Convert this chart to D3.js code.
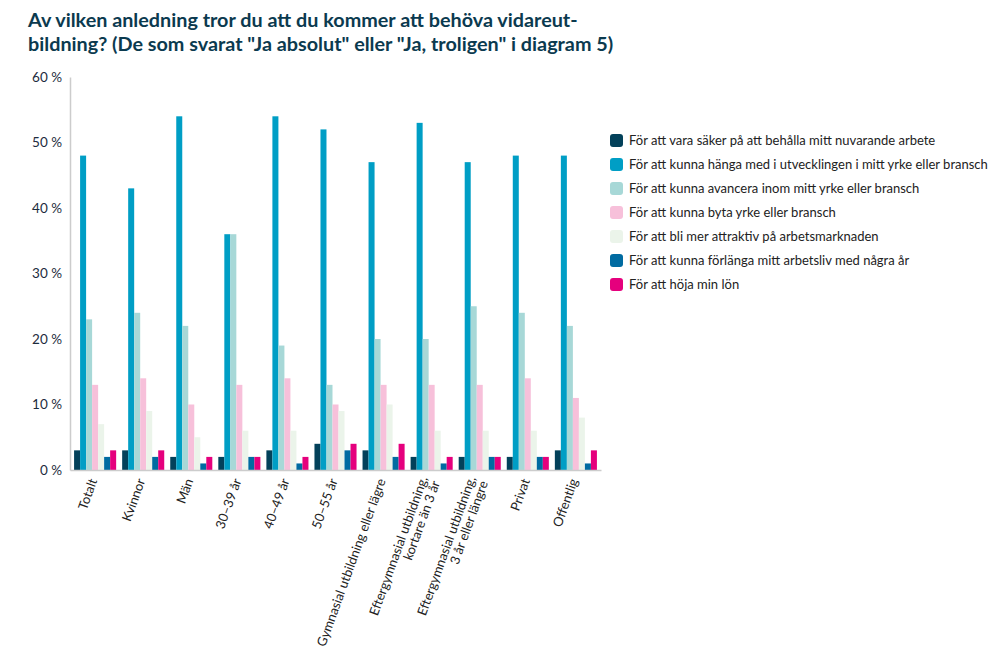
<!DOCTYPE html>
<html lang="sv">
<head>
<meta charset="UTF-8">
<title>Vidareutbildning</title>
<script src="https://d3js.org/d3.v7.min.js"></script>
<style>
  body { margin: 0; background: #fff; }
  text { font-family: Lato, "Noto Sans", sans-serif; }
</style>
</head>
<body>
<div id="chart"></div>
<script>
// categories (x axis), "\n" splits a label over two lines
var categories = ["Totalt", "Kvinnor", "Män", "30–39 år", "40–49 år", "50–55 år",
  "Gymnasial utbildning eller lägre", "Eftergymnasial utbildning,\nkortare än 3 år",
  "Eftergymnasial utbildning,\n3 år eller längre", "Privat", "Offentlig"];

var seriesNames = [
  "För att vara säker på att behålla mitt nuvarande arbete",
  "För att kunna hänga med i utvecklingen i mitt yrke eller bransch",
  "För att kunna avancera inom mitt yrke eller bransch",
  "För att kunna byta yrke eller bransch",
  "För att bli mer attraktiv på arbetsmarknaden",
  "För att kunna förlänga mitt arbetsliv med några år",
  "För att höja min lön"
];

// values in percent, one array per series, same order as categories
var behalla   = [3, 3, 2, 2, 3, 4, 3, 2, 2, 2, 3];
var hangaMed  = [48, 43, 54, 36, 54, 52, 47, 53, 47, 48, 48];
var avancera  = [23, 24, 22, 36, 19, 13, 20, 20, 25, 24, 22];
var bytaYrke  = [13, 14, 10, 13, 14, 10, 13, 13, 13, 14, 11];
var attraktiv = [7, 9, 5, 6, 6, 9, 10, 6, 6, 6, 8];
var forlanga  = [2, 2, 1, 2, 1, 3, 2, 1, 2, 2, 1];
var hojaLon   = [3, 3, 2, 2, 2, 4, 4, 2, 2, 2, 3];

var yTicks = [0, 10, 20, 30, 40, 50, 60];

var series = [behalla, hangaMed, avancera, bytaYrke, attraktiv, forlanga, hojaLon];
var colors = ["#03415a", "#009ec5", "#a7d8d7", "#f7c0da", "#ebf4ea", "#006ba1", "#e5007d"];

var W = 1000, H = 663;
var plotLeft = 70, plotRight = 601, plotTop = 77, plotBottom = 470;

var svg = d3.select("#chart").append("svg")
  .attr("width", W)
  .attr("height", H);

// title
var title = svg.append("text")
  .attr("x", 28)
  .attr("y", 27)
  .attr("fill", "#0b3a4f")
  .style("font-size", "19.8px")
  .style("font-weight", "bold");
title.append("tspan").attr("x", 28).text("Av vilken anledning tror du att du kommer att behöva vidareut-");
title.append("tspan").attr("x", 28).attr("dy", 24).text("bildning? (De som svarat \"Ja absolut\" eller \"Ja, troligen\" i diagram 5)");

var x0 = d3.scaleBand()
  .domain(categories)
  .range([plotLeft, plotRight])
  .paddingInner(0.125)
  .paddingOuter(0.085);

var x1 = d3.scaleBand()
  .domain(d3.range(series.length))
  .range([0, x0.bandwidth()]);

var y = d3.scaleLinear()
  .domain([0, 60])
  .range([plotBottom, plotTop]);

// y axis
var yAxis = svg.append("g")
  .attr("transform", "translate(" + plotLeft + ",0)")
  .call(d3.axisLeft(y).tickValues(yTicks).tickSize(0).tickPadding(8)
    .tickFormat(function(d) { return d + " %"; }));
yAxis.select(".domain").attr("stroke", "#cccccc").attr("stroke-width", 1.5);
yAxis.selectAll("text")
  .attr("fill", "#1d2c3d")
  .style("font-size", "13.5px")
  .style("font-family", "Lato, sans-serif");

// bars
var groups = svg.append("g").selectAll("g")
  .data(categories)
  .join("g")
  .attr("transform", function(d) { return "translate(" + x0(d) + ",0)"; });

groups.selectAll("rect")
  .data(function(d, i) { return series.map(function(s, k) { return {k: k, v: s[i]}; }); })
  .join("rect")
  .attr("x", function(d) { return x1(d.k); })
  .attr("y", function(d) { return y(d.v); })
  .attr("width", x1.bandwidth())
  .attr("height", function(d) { return y(0) - y(d.v); })
  .attr("fill", function(d) { return colors[d.k]; });

// x axis
var xAxis = svg.append("g")
  .attr("transform", "translate(0," + plotBottom + ")")
  .call(d3.axisBottom(x0).tickSize(0).tickFormat(""));
xAxis.select(".domain").attr("stroke", "#cccccc").attr("stroke-width", 1.5);

// rotated x labels
svg.append("g").selectAll("text")
  .data(categories)
  .join("text")
  .attr("transform", function(d) {
    return "translate(" + (x0(d) + x0.bandwidth() / 2 - 2) + "," + (plotBottom + 9) + ") rotate(-70)";
  })
  .attr("text-anchor", "end")
  .attr("fill", "#222")
  .style("font-size", "13px")
  .each(function(d) {
    var lines = d.split("\n");
    var t = d3.select(this);
    lines.forEach(function(line, i) {
      t.append("tspan")
        .attr("x", 0)
        .attr("dy", i === 0 ? (0.35 - (lines.length - 1) * 0.5) + "em" : "1.0em")
        .text(line);
    });
  });

// legend
var legend = svg.append("g")
  .attr("transform", "translate(610,134)");

var item = legend.selectAll("g")
  .data(seriesNames)
  .join("g")
  .attr("transform", function(d, i) { return "translate(0," + (i * 24) + ")"; });

item.append("rect")
  .attr("width", 13)
  .attr("height", 13)
  .attr("rx", 3)
  .attr("fill", function(d, i) { return colors[i]; });

item.append("text")
  .attr("x", 19)
  .attr("y", 11)
  .attr("fill", "#222")
  .style("font-size", "13px")
  .text(function(d) { return d; });
</script>
</body>
</html>
